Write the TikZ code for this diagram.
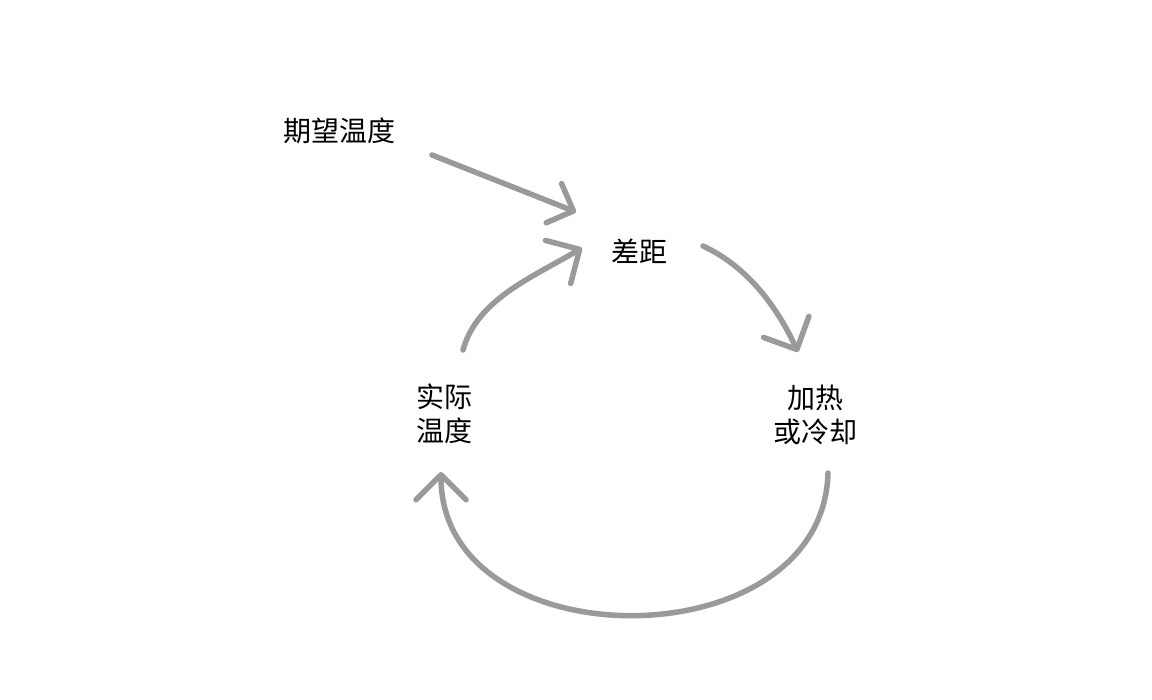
\documentclass[tikz,border=0pt]{standalone}
\usepackage{fontspec}
\setmainfont{Noto Sans CJK SC}
\usetikzlibrary{arrows.meta,calc}
\definecolor{arrowgray}{HTML}{9A9A9A}
\tikzset{
  label/.style={font=\fontsize{28}{34}\selectfont, text=black, align=center, inner sep=0pt},
  flow/.style={draw=arrowgray, line width=5.5pt, line cap=round,
    -{Straight Barb[length=25pt,width=50pt,round]}},
  flowsmall/.style={flow, -{Straight Barb[length=21pt,width=42pt,round]}}
}
\begin{document}
\begin{tikzpicture}[x=1pt,y=-1pt]
  \fill[white] (0,0) rectangle (1152,700);
  \useasboundingbox (0,0) rectangle (1152,700);
  \node[label] (want) at (339,131) {期望温度};
  \node[label] (gap) at (639,251) {差距};
  \node[label] (act) at (444,414) {实际\\温度};
  \node[label] (heat) at (815,415) {加热\\或冷却};
  \draw[flowsmall] ($(want)+(93,24)$) -- ($(gap)+(-63,-39)$);
  \draw[flow] ($(act)+(19,-64)$) .. controls +(14,-50) and +(-53,31) .. ($(gap)+(-57,-3)$);
  \draw[flow] ($(gap)+(64,-5)$) .. controls +(45,21) and +(-21,-45) .. ($(heat)+(-17,-63)$);
  \draw[flow] ($(heat)+(13,58)$) .. controls +(-5,190) and +(0,190) .. ($(act)+(-3,58)$);
\end{tikzpicture}
\end{document}
